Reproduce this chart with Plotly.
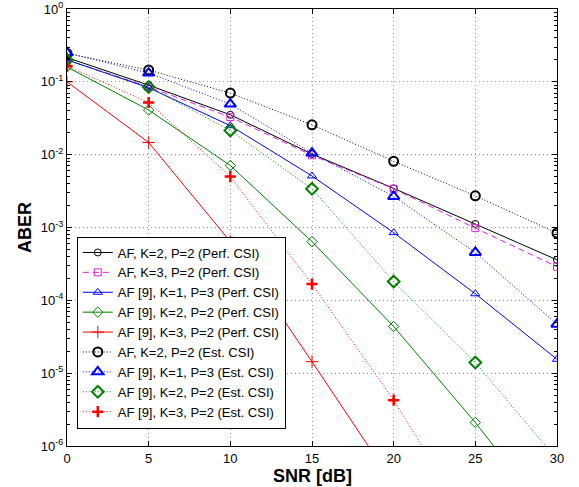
import plotly.graph_objects as go

snr = [0, 5, 10, 15, 20, 25, 30]

af_k2_p2_perf = [0.215, 0.090, 0.0353, 0.0102, 0.00345, 0.00112, 0.00036]
af_k3_p2_perf = [0.200, 0.085, 0.0328, 0.0098, 0.00340, 0.00098, 0.00029]
af9_k1_p3_perf = [0.200, 0.083, 0.0250, 0.0051, 0.00085, 0.000123, 1.55e-5]
af9_k2_p2_perf = [0.160, 0.041, 0.0071, 0.00064, 4.37e-5, 2.1e-6, 7.8e-8]
af9_k3_p2_perf = [0.100, 0.0147, 0.00064, 1.44e-5, 3.0e-7, 6e-9, 1e-10]
af_k2_p2_est = [0.245, 0.145, 0.070, 0.0257, 0.0081, 0.00272, 0.00084]
af9_k1_p3_est = [0.250, 0.132, 0.0495, 0.0105, 0.00267, 0.000454, 4.7e-5]
af9_k2_p2_est = [0.200, 0.085, 0.0215, 0.0034, 0.000181, 1.4e-5, 6.5e-7]
af9_k3_p2_est = [0.165, 0.052, 0.0050, 0.000167, 4.26e-6, 6.6e-8, 1e-9]

names = [
    "AF, K=2, P=2 (Perf. CSI)",
    "AF, K=3, P=2 (Perf. CSI)",
    "AF [9], K=1, P=3 (Perf. CSI)",
    "AF [9], K=2, P=2 (Perf. CSI)",
    "AF [9], K=3, P=2 (Perf. CSI)",
    "AF, K=2, P=2 (Est. CSI)",
    "AF [9], K=1, P=3 (Est. CSI)",
    "AF [9], K=2, P=2 (Est. CSI)",
    "AF [9], K=3, P=2 (Est. CSI)",
]
series = [af_k2_p2_perf, af_k3_p2_perf, af9_k1_p3_perf, af9_k2_p2_perf, af9_k3_p2_perf,
          af_k2_p2_est, af9_k1_p3_est, af9_k2_p2_est, af9_k3_p2_est]

BLACK, MAG, BLUE, GREEN, RED = "#000000", "#e020e0", "#0000ff", "#008000", "#ff0000"
DOT = "1px,2px"
styles = [
    dict(color=BLACK, dash="solid", symbol="circle-open", size=7, mlw=1),
    dict(color=MAG, dash="6px,4px", symbol="square-open", size=7, mlw=1),
    dict(color=BLUE, dash="solid", symbol="triangle-up-open", size=8, mlw=1),
    dict(color=GREEN, dash="solid", symbol="diamond-open", size=8, mlw=1),
    dict(color=RED, dash="solid", symbol="cross-thin-open", size=9, mlw=1),
    dict(color=BLACK, dash=DOT, symbol="circle-open", size=9, mlw=2),
    dict(color=BLUE, dash=DOT, symbol="triangle-up-open", size=10, mlw=2),
    dict(color=GREEN, dash=DOT, symbol="diamond-open", size=9, mlw=2),
    dict(color=RED, dash=DOT, symbol="cross-thin-open", size=8, mlw=2.5),
]

fig = go.Figure()
for name, ys, st in zip(names, series, styles):
    fig.add_trace(go.Scatter(
        x=snr, y=ys, name=name, mode="lines+markers",
        line=dict(color=st["color"], dash=st["dash"], width=1),
        marker=dict(symbol=st["symbol"], size=st["size"], color=st["color"],
                    line=dict(color=st["color"], width=st["mlw"])),
    ))

major_y = [10 ** e for e in range(-6, 1)]
ytext = ["10<sup>%d</sup>" % e for e in range(-6, 1)]
minor_y = [m * 10 ** e for e in range(-6, 0) for m in range(2, 10)]

font = "Liberation Sans, Arial, Helvetica, sans-serif"
fig.update_layout(
    width=579, height=487,
    margin=dict(l=67, r=22, t=9, b=41),
    paper_bgcolor="white", plot_bgcolor="white",
    font=dict(family=font, size=12, color="black"),
    showlegend=True,
    legend=dict(x=0.02, y=0.04, xanchor="left", yanchor="bottom",
                bgcolor="white", bordercolor="black", borderwidth=1,
                font=dict(size=13), tracegroupgap=0, itemwidth=30),
    annotations=[dict(text="<b>SNR [dB]</b>", xref="paper", yref="paper", x=0.5, y=0,
                      yshift=-30, xanchor="center", yanchor="middle", showarrow=False,
                      font=dict(size=18))],
)
fig.update_xaxes(
    range=[0, 30], tickvals=[0, 5, 10, 15, 20, 25, 30],
    showline=True, linecolor="black", linewidth=1, mirror="allticks",
    ticks="inside", ticklen=5, tickcolor="black",
    showgrid=True, gridcolor="#999999", griddash="1px,3px", gridwidth=1,
    zeroline=False, automargin=False,
    tickfont=dict(size=13),
)
fig.update_yaxes(
    type="log", range=[-6, 0], tickvals=major_y, ticktext=ytext,
    showline=True, linecolor="black", linewidth=1, mirror="allticks",
    ticks="inside", ticklen=5, tickcolor="black",
    showgrid=True, gridcolor="#999999", griddash="1px,3px", gridwidth=1,
    minor=dict(tickvals=minor_y, ticks="inside", ticklen=3, tickcolor="black", showgrid=False),
    zeroline=False, automargin=False,
    title=dict(text="<b>ABER</b>", font=dict(size=18), standoff=4),
    tickfont=dict(size=13),
)

fig.write_html("out.html", config={"displayModeBar": False},
               post_script="document.body.style.margin='0px';")
